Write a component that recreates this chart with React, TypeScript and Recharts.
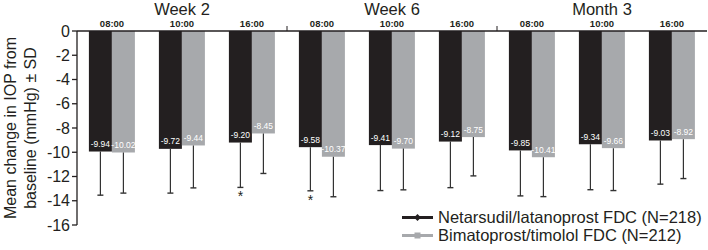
import { BarChart, Bar, XAxis, YAxis, Legend } from "recharts"

const times = ["08:00", "10:00", "16:00", "08:00", "10:00", "16:00", "08:00", "10:00", "16:00"]
const visits = ["Week 2", "Week 2", "Week 2", "Week 6", "Week 6", "Week 6", "Month 3", "Month 3", "Month 3"]
const netarsudil = [-9.94, -9.72, -9.2, -9.58, -9.41, -9.12, -9.85, -9.34, -9.03]
const netarsudilSD = [3.6, 3.65, 3.7, 3.6, 3.75, 3.8, 3.75, 3.75, 3.6]
const bimatoprost = [-10.02, -9.44, -8.45, -10.37, -9.7, -8.75, -10.41, -9.66, -8.92]
const bimatoprostSD = [3.35, 3.5, 3.3, 3.3, 3.4, 3.2, 3.25, 3.5, 3.25]
const significant = [false, false, true, true, false, false, false, false, false]
const yTicks = [0, -2, -4, -6, -8, -10, -12, -14, -16]
const seriesOrder = ["net", "bim"]

const FONT = "'Liberation Sans', Arial, sans-serif"
const INK = "#231f20"
const BLACK = "#231f20"
const GREY = "#a7a9ac"

const data = times.map((t, i) => ({
  time: t,
  visit: visits[i],
  net: netarsudil[i],
  netSD: netarsudilSD[i],
  bim: bimatoprost[i],
  bimSD: bimatoprostSD[i],
  sig: significant[i],
}))

function BarWithSD(props: any) {
  const { x, y, width, height, fill, payload, valueKey, sdKey, showSig } = props
  const value = payload[valueKey]
  const sd = payload[sdKey]
  const top = Math.min(y, y + height)
  const h = Math.abs(height)
  const end = top + h
  const low = end + (sd * h) / Math.abs(value)
  const cx = x + width / 2
  return (
    <g>
      <rect x={x} y={top} width={width} height={h} fill={fill} />
      <line x1={cx} x2={cx} y1={end} y2={low} stroke="#333" strokeWidth={1.2} />
      <line x1={cx - 3} x2={cx + 3} y1={low} y2={low} stroke="#333" strokeWidth={1.4} />
      <text x={cx} y={end - 4.5} textAnchor="middle" fill="#fff" fontSize={8.5} fontFamily={FONT}>
        {value.toFixed(2)}
      </text>
      {showSig && payload.sig && (
        <text x={cx} y={low + 14} textAnchor="middle" fill={INK} fontSize={14} fontFamily={FONT}>
          *
        </text>
      )}
    </g>
  )
}

function TimeTick(props: any) {
  const { x, y, payload, index } = props
  return (
    <g>
      <text x={x} y={y} textAnchor="middle" fill={INK} fontSize={9.5} fontWeight="bold" fontFamily={FONT}>
        {payload.value}
      </text>
      {(index === 2 || index === 5) && (
        <line x1={x + payload.offset} x2={x + payload.offset} y1={y + 4} y2={y - 1} stroke={INK} strokeWidth={1} />
      )}
    </g>
  )
}

function VisitTick(props: any) {
  const { x, y, payload } = props
  return (
    <text x={x} y={y} textAnchor="middle" fill={INK} fontSize={16.5} fontFamily={FONT}>
      {payload.value}
    </text>
  )
}

function YTitle(props: any) {
  const { viewBox } = props
  const cy = viewBox.y + viewBox.height / 2
  const x1 = viewBox.x + 16
  const x2 = viewBox.x + 36
  return (
    <g fill={INK} fontSize={16} fontFamily={FONT}>
      <text x={x1} y={cy} textAnchor="middle" transform={`rotate(-90 ${x1} ${cy})`}>
        Mean change in IOP from
      </text>
      <text x={x2} y={cy} textAnchor="middle" transform={`rotate(-90 ${x2} ${cy})`}>
        baseline (mmHg) ± SD
      </text>
    </g>
  )
}

function LegendBox(props: any) {
  const items = [...(props.payload || [])].sort(
    (a: any, b: any) => seriesOrder.indexOf(a.dataKey) - seriesOrder.indexOf(b.dataKey)
  )
  return (
    <div style={{ fontFamily: FONT, fontSize: 16.5, color: INK }}>
      {items.map((p: any) => (
        <div key={p.dataKey} style={{ display: "flex", alignItems: "center", height: 17.5, lineHeight: "17.5px" }}>
          <svg width={38} height={17}>
            <line x1={2} x2={33} y1={8.5} y2={8.5} stroke={p.color} strokeWidth={3} />
            {p.dataKey === "net" ? (
              <path d="M17.5 5 L21 8.5 L17.5 12 L14 8.5 Z" fill={p.color} />
            ) : (
              <rect x={14.5} y={5.5} width={6} height={6} fill={p.color} />
            )}
          </svg>
          <span style={{ marginLeft: 0, whiteSpace: "nowrap" }}>{p.value}</span>
        </div>
      ))}
    </div>
  )
}

export default function App() {
  return (
    <div style={{ position: "absolute", left: 0, top: 0, background: "#fff" }}>
      <BarChart
        width={708}
        height={250}
        data={data}
        margin={{ top: 0, right: 1, bottom: 25, left: 0 }}
        barCategoryGap="17%"
        barGap={0}
      >
        <XAxis
          dataKey="time"
          orientation="top"
          height={14}
          tickLine={false}
          tickSize={0}
          tickMargin={4}
          axisLine={{ stroke: INK, strokeWidth: 1.3 }}
          tick={<TimeTick />}
          interval={0}
        />
        <XAxis
          xAxisId="visit"
          dataKey="visit"
          orientation="top"
          height={17}
          allowDuplicatedCategory={false}
          tickLine={false}
          axisLine={false}
          tickSize={0}
          tickMargin={2}
          tick={<VisitTick />}
          interval={0}
        />
        <YAxis
          domain={[-16, 0]}
          ticks={yTicks}
          width={77}
          interval={0}
          tickSize={5}
          tickMargin={2}
          axisLine={{ stroke: INK, strokeWidth: 1.3 }}
          tickLine={{ stroke: INK, strokeWidth: 1.3 }}
          tick={{ fill: INK, fontSize: 16, fontFamily: FONT }}
          label={<YTitle />}
        />
        <Legend
          layout="vertical"
          align="center"
          verticalAlign="middle"
          wrapperStyle={{ top: 209, left: 400, width: 308 }}
          content={<LegendBox />}
        />
        <Bar
          dataKey="net"
          name="Netarsudil/latanoprost FDC (N=218)"
          fill={BLACK}
          isAnimationActive={false}
          shape={(p: any) => <BarWithSD {...p} valueKey="net" sdKey="netSD" showSig />}
        />
        <Bar
          dataKey="bim"
          name="Bimatoprost/timolol FDC (N=212)"
          fill={GREY}
          isAnimationActive={false}
          shape={(p: any) => <BarWithSD {...p} valueKey="bim" sdKey="bimSD" showSig={false} />}
        />
      </BarChart>
    </div>
  )
}
